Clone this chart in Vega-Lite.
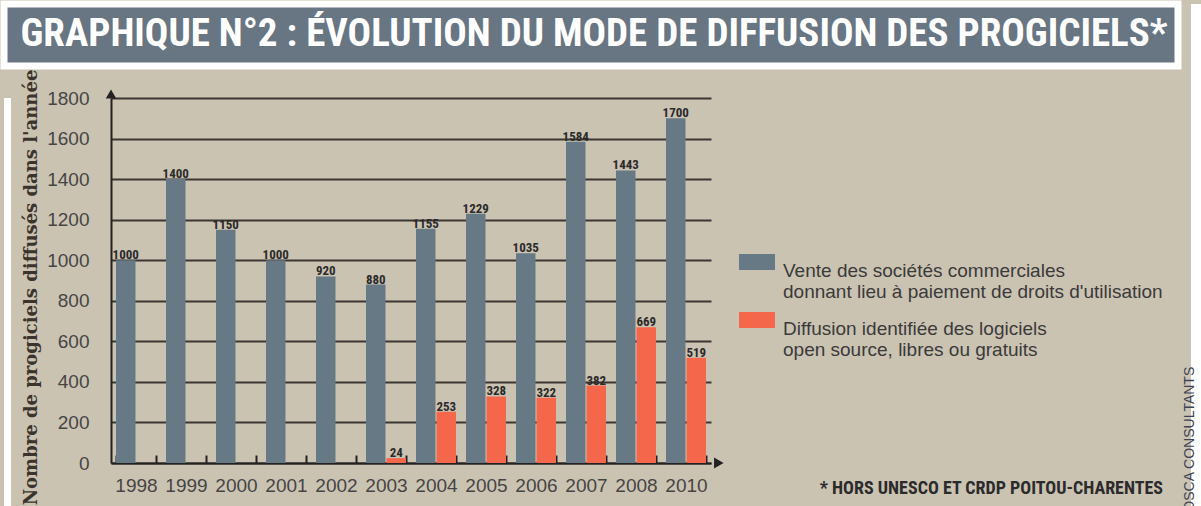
{
  "$schema": "https://vega.github.io/schema/vega-lite/v6.json",
  "background": "#cbc3b2",
  "padding": 0,
  "config": {"view": {"stroke": null}},
  "resolve": {"scale": {"color": "independent", "xOffset": "independent"}, "legend": {"color": "independent"}},
  "hconcat": [
    {
      "resolve": {"scale": {"color": "independent", "xOffset": "independent"}, "legend": {"color": "independent"}},
      "vconcat": [
        {
          "width": 1174,
          "height": 62,
          "view": {"fill": "#687582", "stroke": "white", "strokeWidth": 7},
          "data": {"values": [{"titre": "GRAPHIQUE N°2 : ÉVOLUTION DU MODE DE DIFFUSION DES PROGICIELS*"}]},
          "mark": {"type": "text", "font": "Roboto Condensed, DejaVu Sans Condensed, Liberation Sans Narrow, Roboto, sans-serif", "fontWeight": "bold", "fontSize": 39, "color": "white", "align": "center", "baseline": "middle", "dy": -1, "dx": 3},
          "encoding": {"text": {"field": "titre", "type": "nominal"}}
        },
        {
          "resolve": {"scale": {"color": "independent", "xOffset": "independent"}, "legend": {"color": "independent"}},
          "hconcat": [
            {
              "width": 7,
              "height": 420,
              "view": {"fill": "white", "stroke": null},
              "data": {"values": []},
              "mark": "rect"
            },
            {
              "width": 600,
              "height": 365,
              "data": {"values": [
                {"annee": "1998", "serie": "Vente des sociétés commerciales\ndonnant lieu à paiement de droits d'utilisation", "valeur": 1000},
                {"annee": "1999", "serie": "Vente des sociétés commerciales\ndonnant lieu à paiement de droits d'utilisation", "valeur": 1400},
                {"annee": "2000", "serie": "Vente des sociétés commerciales\ndonnant lieu à paiement de droits d'utilisation", "valeur": 1150},
                {"annee": "2001", "serie": "Vente des sociétés commerciales\ndonnant lieu à paiement de droits d'utilisation", "valeur": 1000},
                {"annee": "2002", "serie": "Vente des sociétés commerciales\ndonnant lieu à paiement de droits d'utilisation", "valeur": 920},
                {"annee": "2003", "serie": "Vente des sociétés commerciales\ndonnant lieu à paiement de droits d'utilisation", "valeur": 880},
                {"annee": "2004", "serie": "Vente des sociétés commerciales\ndonnant lieu à paiement de droits d'utilisation", "valeur": 1155},
                {"annee": "2005", "serie": "Vente des sociétés commerciales\ndonnant lieu à paiement de droits d'utilisation", "valeur": 1229},
                {"annee": "2006", "serie": "Vente des sociétés commerciales\ndonnant lieu à paiement de droits d'utilisation", "valeur": 1035},
                {"annee": "2007", "serie": "Vente des sociétés commerciales\ndonnant lieu à paiement de droits d'utilisation", "valeur": 1584},
                {"annee": "2008", "serie": "Vente des sociétés commerciales\ndonnant lieu à paiement de droits d'utilisation", "valeur": 1443},
                {"annee": "2010", "serie": "Vente des sociétés commerciales\ndonnant lieu à paiement de droits d'utilisation", "valeur": 1700},
                {"annee": "2003", "serie": "Diffusion identifiée des logiciels\nopen source, libres ou gratuits", "valeur": 24},
                {"annee": "2004", "serie": "Diffusion identifiée des logiciels\nopen source, libres ou gratuits", "valeur": 253},
                {"annee": "2005", "serie": "Diffusion identifiée des logiciels\nopen source, libres ou gratuits", "valeur": 328},
                {"annee": "2006", "serie": "Diffusion identifiée des logiciels\nopen source, libres ou gratuits", "valeur": 322},
                {"annee": "2007", "serie": "Diffusion identifiée des logiciels\nopen source, libres ou gratuits", "valeur": 382},
                {"annee": "2008", "serie": "Diffusion identifiée des logiciels\nopen source, libres ou gratuits", "valeur": 669},
                {"annee": "2010", "serie": "Diffusion identifiée des logiciels\nopen source, libres ou gratuits", "valeur": 519}
              ]},
              "title": {
                "text": "* HORS UNESCO ET CRDP POITOU-CHARENTES",
                "orient": "bottom",
                "anchor": "end",
                "frame": "bounds",
                "offset": -25,
                "font": "Roboto Condensed, DejaVu Sans Condensed, Liberation Sans Narrow, Roboto, sans-serif",
                "fontSize": 18,
                "fontWeight": "bold",
                "color": "#2b2b2b"
              },
              "layer": [
                {
                  "encoding": {
                    "x": {
                      "field": "annee", "type": "ordinal", "title": null,
                      "scale": {"paddingInner": 0.2, "paddingOuter": 0.1},
                      "axis": {
                        "labelAngle": 0, "labelFont": "Liberation Sans", "labelFontSize": 19, "labelColor": "#454545",
                        "labelPadding": 21, "tickSize": -8, "tickColor": "#222222", "tickWidth": 2, "tickBand": "extent",
                        "domainColor": "#222222", "domainWidth": 2, "grid": false
                      }
                    },
                    "xOffset": {
                      "field": "serie", "type": "nominal",
                      "scale": {"domain": ["Vente des sociétés commerciales\ndonnant lieu à paiement de droits d'utilisation", "Diffusion identifiée des logiciels\nopen source, libres ou gratuits"], "paddingInner": 0.05}
                    },
                    "y": {
                      "field": "valeur", "type": "quantitative",
                      "scale": {"domain": [0, 1800], "nice": false},
                      "axis": {
                        "values": [0, 200, 400, 600, 800, 1000, 1200, 1400, 1600, 1800], "format": "d",
                        "title": "Nombre de progiciels diffusés dans l'année",
                        "titleFont": "DejaVu Serif", "titleFontSize": 18, "titleFontWeight": "bold", "titleColor": "#3a342c", "titlePadding": 6, "titleY": 189,
                        "labelFont": "Liberation Sans", "labelFontSize": 19, "labelColor": "#454545", "labelPadding": 22,
                        "ticks": false, "domainColor": "#222222", "domainWidth": 2,
                        "grid": true, "gridColor": "#3b3631", "gridWidth": 2
                      }
                    }
                  },
                  "layer": [
                    {
                      "mark": {"type": "bar"},
                      "encoding": {
                        "color": {
                          "field": "serie", "type": "nominal",
                          "scale": {"domain": ["Vente des sociétés commerciales\ndonnant lieu à paiement de droits d'utilisation", "Diffusion identifiée des logiciels\nopen source, libres ou gratuits"], "range": ["#677985", "#f4674a"]},
                          "legend": {
                            "orient": "none", "legendX": 628, "legendY": 146, "title": null,
                            "symbolType": "M-1,-0.444H1V0.444H-1Z", "symbolSize": 1296, "symbolStrokeWidth": 0,
                            "labelFont": "Liberation Sans", "labelFontSize": 19, "labelColor": "#3a3a3a", "labelLimit": 0,
                            "labelOffset": 8, "labelBaseline": "top", "rowPadding": 0,
                            "labelExpr": "split(datum.label, '\\n')"
                          }
                        }
                      }
                    },
                    {
                      "mark": {"type": "text", "font": "Roboto Condensed, DejaVu Sans Condensed, Liberation Sans Narrow, Roboto, sans-serif", "fontWeight": "bold", "fontSize": 13, "color": "#2a2a2a", "baseline": "alphabetic", "dy": -1},
                      "encoding": {"text": {"field": "valeur", "type": "quantitative", "format": "d"}}
                    }
                  ]
                },
                {
                  "data": {"values": [{}]},
                  "layer": [
                    {
                      "mark": {"type": "point", "shape": "triangle-up", "filled": true, "size": 110, "color": "#222222", "opacity": 1},
                      "encoding": {
                        "x": {"datum": 0, "type": "quantitative", "scale": {"domain": [0, 1]}, "axis": null},
                        "y": {"datum": 1820, "type": "quantitative"}
                      }
                    },
                    {
                      "mark": {"type": "point", "shape": "triangle-right", "filled": true, "size": 120, "color": "#222222", "opacity": 1},
                      "encoding": {
                        "x": {"datum": 1.013, "type": "quantitative", "scale": {"domain": [0, 1]}, "axis": null},
                        "y": {"datum": 0, "type": "quantitative"}
                      }
                    }
                  ]
                }
              ],
              "resolve": {"scale": {"x": "independent"}}
            }
          ],
          "spacing": 11
        }
      ],
      "spacing": -1
    },
    {
      "width": 27,
      "height": 506,
      "view": {"fill": "white", "stroke": null},
      "data": {"values": [{"credit": "TOSCA CONSULTANTS"}]},
      "mark": {"type": "text", "angle": 270, "align": "left", "baseline": "middle", "font": "Liberation Sans", "fontSize": 14, "color": "#3c4252", "dx": -10, "dy": -15},
      "encoding": {
        "text": {"field": "credit", "type": "nominal"},
        "y": {"datum": 0, "type": "quantitative", "scale": {"domain": [0, 1]}, "axis": null}
      }
    }
  ],
  "spacing": 0
}
